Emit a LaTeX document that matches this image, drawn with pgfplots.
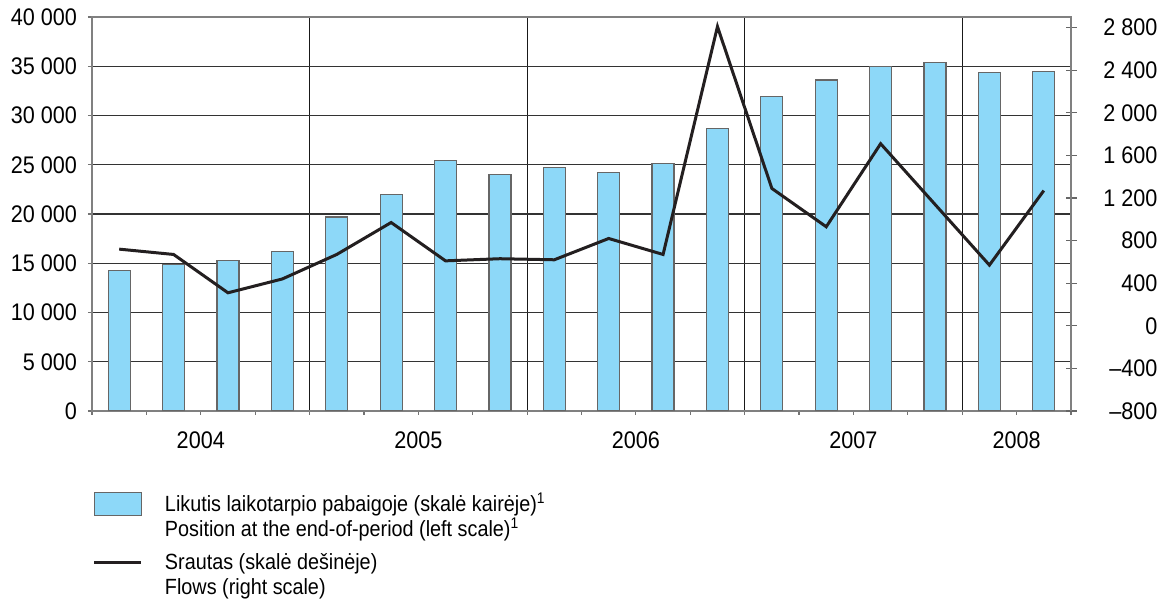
\documentclass[border=0pt]{standalone}
\usepackage{pgfplots}
\pgfplotsset{compat=1.18}
\usepackage{fontspec}
\setmainfont{Liberation Sans}[FakeStretch=0.9]
\definecolor{barblue}{HTML}{8DD8F8}
\definecolor{linecol}{HTML}{231F20}
\newcommand{\tickfont}{\fontsize{12}{14}\selectfont}
\begin{document}
\begin{tikzpicture}
\useasboundingbox (-46pt,-101.5pt) rectangle (538pt,205.5pt);
% grid only
\begin{axis}[
  at={(0,0)}, anchor=south west,
  scale only axis, width=489.5pt, height=197pt,
  xmin=0.5, xmax=18.5, ymin=0, ymax=40000,
  scaled y ticks=false,
  axis line style={draw=none},
  major tick length=0pt,
  ytick={0,5000,...,40000}, yticklabels={},
  xtick={4.5,8.5,12.5,16.5}, xticklabels={},
  xmajorgrids=true, ymajorgrids=true,
  x grid style={black!90, line width=0.5pt},
  y grid style={black!80, line width=0.6pt},
]
\end{axis}
% bars
\begin{axis}[
  at={(0,0)}, anchor=south west,
  scale only axis, width=489.5pt, height=197pt,
  xmin=0.5, xmax=18.5, ymin=0, ymax=40000,
  scaled y ticks=false,
  ybar, bar width=11pt,
  axis line style={black!50, line width=0.8pt},
  tick align=outside,
  major tick length=2pt, minor tick length=2pt,
  tick style={black!55, line width=0.6pt},
  xtick pos=bottom, ytick pos=left,
  ytick={0,5000,...,40000},
  yticklabels={0,5 000,10 000,15 000,20 000,25 000,30 000,35 000,40 000},
  xtick={2.5,6.5,10.5,14.5,17.5},
  xticklabels={2004,2005,2006,2007,2008},
  minor xtick={0.5,1.5,...,18.5},
  yticklabel style={font=\tickfont, xshift=-2pt},
  xticklabel style={font=\tickfont, yshift=-5pt},
]
\addplot[fill=barblue, draw=black!60, line width=0.6pt] coordinates {
(1,14300) (2,14900) (3,15300) (4,16200) (5,19700) (6,22000) (7,25400) (8,24000) (9,24700)
(10,24200) (11,25100) (12,28700) (13,31900) (14,33600) (15,35000) (16,35400) (17,34400) (18,34500)};
\end{axis}
% line
\begin{axis}[
  at={(0,0)}, anchor=south west,
  scale only axis, width=489.5pt, height=197pt,
  xmin=0.5, xmax=18.5, ymin=-800, ymax=2900,
  hide x axis, xtick=\empty,
  axis y line*=right,
  axis line style={black!50, line width=0.8pt},
  tick align=center, major tick length=5.5pt,
  tick style={black!60, line width=0.6pt},
  ytick={-800,-400,...,2800},
  yticklabels={--800,--400,0,400,800,1 200,1 600,2 000,2 400,2 800},
  yticklabel style={font=\tickfont, anchor=east, xshift=44pt},
  legend style={at={(0,0)}, anchor=north west, xshift=0.5pt, yshift=-40.5pt,
    draw=none, fill=none, inner sep=0pt, outer sep=0pt,
    font=\fontsize{11}{13}\selectfont,
    row sep=0.5pt, column sep=10.5pt,
    cells={anchor=base west},
    nodes={inner sep=0.5pt, text height=8pt, text depth=3pt}},
]
\addlegendimage{legend image code/.code={\draw[fill=barblue, draw=black!60, line width=0.6pt] (0pt,-2pt) rectangle (23.5pt,9.5pt);}}
\addlegendentry{Likutis laikotarpio pabaigoje (skalė kairėje)\textsuperscript{1}}
\addlegendimage{empty legend}
\addlegendentry[text depth=7pt]{Position at the end-of-period (left scale)\textsuperscript{1}}
\addplot[linecol, line width=1.5pt, mark=none,
  legend image code/.code={\draw[linecol, line width=1.5pt] (0pt,3.5pt) -- (23.5pt,3.5pt);}]
coordinates {
(1,720) (2,670) (3,310) (4,440) (5,670) (6,970) (7,610) (8,630) (9,620)
(10,820) (11,670) (12,2810) (13,1290) (14,930) (15,1710) (16,1140) (17,570) (18,1270)};
\addlegendentry{Srautas (skalė dešinėje)}
\addlegendimage{empty legend}
\addlegendentry{Flows (right scale)}
\end{axis}
\end{tikzpicture}
\end{document}
